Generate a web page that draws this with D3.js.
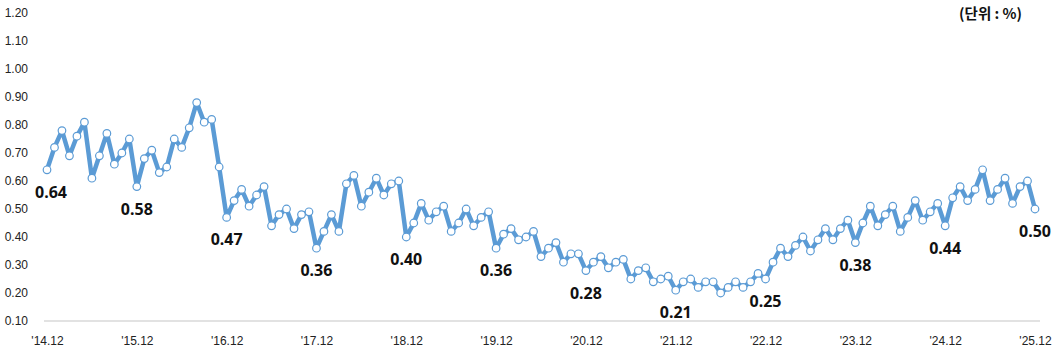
<!DOCTYPE html>
<html>
<head>
<meta charset="utf-8">
<script src="https://cdn.jsdelivr.net/npm/d3@7"></script>
<style>
  body { margin: 0; background: #fff; }
  svg { display: block; }
</style>
</head>
<body>
<svg id="canvas"></svg>
<script>
// monthly values, '14.12 .. '25.12 (unit: %)
let values = [
    0.64, 0.72, 0.78, 0.69, 0.76, 0.81, 0.61, 0.69, 0.77, 0.66, 0.70, 0.75,
    0.58, 0.68, 0.71, 0.63, 0.65, 0.75, 0.72, 0.79, 0.88, 0.81, 0.82, 0.65,
    0.47, 0.53, 0.57, 0.51, 0.55, 0.58, 0.44, 0.48, 0.50, 0.43, 0.48, 0.49,
    0.36, 0.42, 0.48, 0.42, 0.59, 0.62, 0.51, 0.56, 0.61, 0.55, 0.59, 0.60,
    0.40, 0.45, 0.52, 0.46, 0.49, 0.51, 0.42, 0.45, 0.50, 0.44, 0.47, 0.49,
    0.36, 0.41, 0.43, 0.39, 0.40, 0.42, 0.33, 0.36, 0.38, 0.31, 0.34, 0.34,
    0.28, 0.31, 0.33, 0.29, 0.31, 0.32, 0.25, 0.28, 0.29, 0.24, 0.25, 0.26,
    0.21, 0.24, 0.25, 0.22, 0.24, 0.24, 0.20, 0.22, 0.24, 0.22, 0.24, 0.27,
    0.25, 0.31, 0.36, 0.33, 0.37, 0.40, 0.35, 0.39, 0.43, 0.39, 0.43, 0.46,
    0.38, 0.45, 0.51, 0.44, 0.48, 0.51, 0.42, 0.47, 0.53, 0.46, 0.49, 0.52,
    0.44, 0.54, 0.58, 0.53, 0.57, 0.64, 0.53, 0.57, 0.61, 0.52, 0.58, 0.60,
    0.50
]

let tickLabels = ["'14.12", "'15.12", "'16.12", "'17.12", "'18.12", "'19.12",
                  "'20.12", "'21.12", "'22.12", "'23.12", "'24.12", "'25.12"]
let yTicks = [0.10, 0.20, 0.30, 0.40, 0.50, 0.60, 0.70, 0.80, 0.90, 1.00, 1.10, 1.20]

// december points get a value label
let labelIdx = tickLabels.map((t, i) => i * 12)

let width = 1062
let height = 354
let color = "#5b9bd5"

let svg = d3.select("#canvas")
svg.attr("width", width)
svg.attr("height", height)

let xScale = d3.scalePoint()
    .domain(d3.range(values.length))
    .range([47, 1035])

let yScale = d3.scaleLinear()
    .domain([0.10, 1.20])
    .range([321, 13])

// y axis: labels only
let yAxis = d3.axisLeft(yScale)
    .tickValues(yTicks)
    .tickFormat(d3.format(".2f"))
    .tickSize(0)
    .tickPadding(0)

let gy = svg.append("g")
    .attr("transform", "translate(28,0)")
    .call(yAxis)
gy.select(".domain").remove()
gy.selectAll("text")
    .attr("font-family", "'Liberation Sans', Arial, sans-serif")
    .attr("font-size", 12)
    .attr("fill", "#222")

// category axis
svg.append("line")
    .attr("x1", 44).attr("x2", 1040)
    .attr("y1", yScale(0.10)).attr("y2", yScale(0.10))
    .attr("stroke", "#d9d9d9")
    .attr("stroke-width", 1.5)

let xAxis = d3.axisBottom(xScale)
    .tickValues(labelIdx)
    .tickFormat((d, i) => tickLabels[i])
    .tickSize(0)
    .tickPadding(0)

let gx = svg.append("g")
    .attr("transform", "translate(0,336)")
    .call(xAxis)
gx.select(".domain").remove()
gx.selectAll("text")
    .attr("font-family", "'Liberation Sans', Arial, sans-serif")
    .attr("font-size", 12)
    .attr("fill", "#222")

// line + markers
let line = d3.line()
    .x((d, i) => xScale(i))
    .y(d => yScale(d))

svg.append("path")
    .datum(values)
    .attr("d", line)
    .attr("fill", "none")
    .attr("stroke", color)
    .attr("stroke-width", 4.5)
    .attr("stroke-linejoin", "round")

svg.selectAll("circle")
    .data(values)
    .enter()
    .append("circle")
    .attr("cx", (d, i) => xScale(i))
    .attr("cy", d => yScale(d))
    .attr("r", 3.8)
    .attr("fill", "#fff")
    .attr("stroke", color)
    .attr("stroke-width", 1.2)

// value labels
svg.selectAll(".vlabel")
    .data(labelIdx)
    .enter()
    .append("text")
    .attr("class", "vlabel")
    .attr("x", i => xScale(i) + (i == 0 ? 4 : 0))
    .attr("y", i => yScale(values[i]) + 28)
    .attr("text-anchor", "middle")
    .attr("font-family", "'Noto Sans', sans-serif")
    .attr("font-weight", "bold")
    .attr("font-size", 16)
    .attr("fill", "#111")
    .text(i => d3.format(".2f")(values[i]))

svg.append("text")
    .attr("x", 1022)
    .attr("y", 19)
    .attr("text-anchor", "end")
    .attr("font-family", "'Noto Sans CJK KR', sans-serif")
    .attr("font-weight", "bold")
    .attr("font-size", 14.5)
    .attr("fill", "#111")
    .text("(단위 : %)")
</script>
</body>
</html>
